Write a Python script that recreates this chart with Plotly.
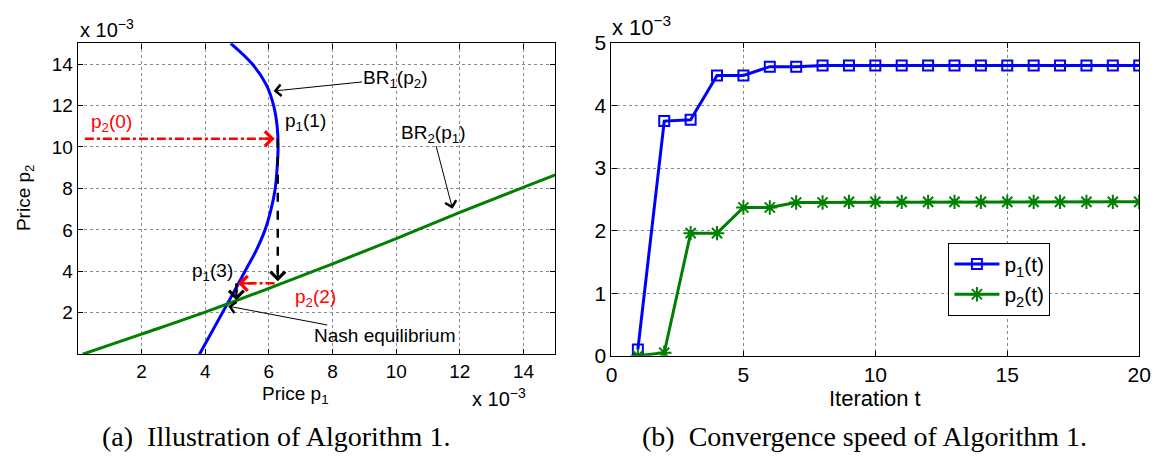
import plotly.graph_objects as go

# ---------------- data (prices in units of 1e-3) ----------------
# Left panel: best-response curves
br1_p2 = [0.0, 1.0, 2.0, 3.0, 4.0, 5.0, 6.0, 7.0, 8.0, 9.0, 10.0, 11.0, 12.0, 13.0, 14.0, 15.0]
br1_p1 = [3.82, 4.18, 4.54, 4.9, 5.25, 5.6, 5.88, 6.07, 6.2, 6.26, 6.29, 6.26, 6.15, 5.92, 5.48, 4.8]

br2_p1 = [0.15, 2.0, 4.0, 6.0, 8.0, 10.0, 12.0, 15.0]
br2_p2 = [0.0, 0.97, 2.03, 3.18, 4.36, 5.58, 6.84, 8.65]

# Iteration path of Algorithm 1 (left panel)
p2_0 = 10.4
p1_1 = 6.28
p2_2 = 3.42
p1_3 = 4.98
nash_p1, nash_p2 = 4.72, 2.32

# Right panel: convergence
iters = list(range(1, 21))
p1_t = [0.1, 3.75, 3.77, 4.48, 4.48, 4.62, 4.62, 4.64, 4.64, 4.64, 4.64, 4.64,
        4.64, 4.64, 4.64, 4.64, 4.64, 4.64, 4.64, 4.64]
p2_t = [0.0, 0.05, 1.96, 1.96, 2.37, 2.37, 2.45, 2.45, 2.46, 2.46, 2.46, 2.46,
        2.46, 2.46, 2.46, 2.46, 2.46, 2.46, 2.46, 2.46]

left_ticks = [2, 4, 6, 8, 10, 12, 14]
right_xticks = [0, 5, 10, 15, 20]
right_yticks = [0, 1, 2, 3, 4, 5]

BLUE = "#0000FF"
GREEN = "#008000"
RED = "#FF0000"
SANS = "Liberation Sans, Arial, sans-serif"
SERIF = "Liberation Serif, Times New Roman, serif"
FL = 19   # left panel font size
FR = 21   # right panel font size

fig = go.Figure()

# ---------------- left panel ----------------
fig.add_trace(go.Scatter(x=br1_p1, y=br1_p2, mode="lines", line=dict(color=BLUE, width=3, shape="spline"),
                         xaxis="x", yaxis="y", showlegend=False))
fig.add_trace(go.Scatter(x=br2_p1, y=br2_p2, mode="lines", line=dict(color=GREEN, width=3, shape="spline"),
                         xaxis="x", yaxis="y", showlegend=False))

# dashed iteration lines
fig.add_trace(go.Scatter(x=[0.22, p1_1 - 0.1], y=[p2_0, p2_0], mode="lines",
                         line=dict(color=RED, width=2.5, dash="dashdot"), xaxis="x", yaxis="y", showlegend=False))
fig.add_trace(go.Scatter(x=[p1_1, p1_1], y=[p2_0, p2_2 + 0.1], mode="lines",
                         line=dict(color="black", width=2.5, dash="dash"), xaxis="x", yaxis="y", showlegend=False))
fig.add_trace(go.Scatter(x=[p1_1 - 0.1, p1_3 + 0.05], y=[p2_2, p2_2], mode="lines",
                         line=dict(color=RED, width=2.5, dash="dashdot"), xaxis="x", yaxis="y", showlegend=False))
fig.add_trace(go.Scatter(x=[p1_3, p1_3], y=[p2_2, 2.6], mode="lines",
                         line=dict(color="black", width=2.5, dash="dash"), xaxis="x", yaxis="y", showlegend=False))

# ---------------- right panel ----------------
fig.add_trace(go.Scatter(x=iters, y=p1_t, mode="lines+markers", name="p<sub>1</sub>(t)",
                         line=dict(color=BLUE, width=3),
                         marker=dict(symbol="square-open", size=10, color=BLUE, line=dict(width=2, color=BLUE)),
                         xaxis="x2", yaxis="y2"))
fig.add_trace(go.Scatter(x=iters, y=p2_t, mode="lines+markers", name="p<sub>2</sub>(t)",
                         line=dict(color=GREEN, width=3),
                         marker=dict(symbol="asterisk-open", size=12, color=GREEN, line=dict(width=2, color=GREEN)),
                         xaxis="x2", yaxis="y2"))

def ax_common(fs):
    return dict(showline=True, linecolor="black", linewidth=1.3, mirror="allticks",
                ticks="inside", ticklen=5, tickcolor="black", showgrid=True,
                gridcolor="#8a8a8a", griddash="dot", gridwidth=1, zeroline=False,
                tickfont=dict(family=SANS, size=fs, color="black"))

fig.update_layout(
    width=1168, height=466,
    margin=dict(l=0, r=0, t=0, b=0),
    paper_bgcolor="white", plot_bgcolor="white",
    font=dict(family=SANS, size=FL, color="black"),
    xaxis=dict(domain=[0.0625, 0.4777], range=[0, 15], tickvals=left_ticks, anchor="y", **ax_common(FL)),
    yaxis=dict(domain=[0.2275, 0.9292], range=[0, 15], tickvals=left_ticks, anchor="x", **ax_common(FL)),
    xaxis2=dict(domain=[0.5265, 0.9854], range=[0, 20], tickvals=right_xticks, anchor="y2", **ax_common(FR)),
    yaxis2=dict(domain=[0.2238, 0.9303], range=[0, 5], tickvals=right_yticks, anchor="x2", **ax_common(FR)),
    legend=dict(x=0.8195, y=0.479, xanchor="left", yanchor="top", bgcolor="white",
                bordercolor="black", borderwidth=1, font=dict(size=FR, family=SANS),
                itemwidth=45, tracegroupgap=8),
    showlegend=True,
)

anns = []
# arrow heads on iteration lines (open chevron style)
def head(x0, y0, x1, y1, color):
    anns.append(dict(x=x1, y=y1, ax=x0, ay=y0, xref="x", yref="y", axref="x", ayref="y",
                     text="", showarrow=True, arrowhead=4, arrowsize=1.3, arrowwidth=2.2, arrowcolor=color))

head(p1_1 - 0.6, p2_0, p1_1 - 0.1, p2_0, RED)
head(p1_1, p2_2 + 0.9, p1_1, p2_2 + 0.1, "black")
head(p1_3 + 0.6, p2_2, p1_3 + 0.05, p2_2, RED)
head(p1_3, 3.2, p1_3, 2.6, "black")

# labelled pointer arrows
def pointer(text, tx, ty, hx, hy):
    anns.append(dict(x=hx, y=hy, ax=tx, ay=ty, xref="x", yref="y", axref="x", ayref="y",
                     text=text, showarrow=True, arrowhead=4, arrowsize=2.2, arrowwidth=1, arrowcolor="black",
                     font=dict(size=FL, color="black", family=SANS), borderpad=0))

pointer("BR<sub>1</sub>(p<sub>2</sub>)", 9.95, 13.3, 6.15, 12.7)
pointer("BR<sub>2</sub>(p<sub>1</sub>)", 11.15, 10.65, 11.77, 7.02)
pointer("Nash equilibrium", 9.65, 0.88, nash_p1, nash_p2)

# plain text labels
def label(text, x, y, color, xanchor="center"):
    anns.append(dict(x=x, y=y, xref="x", yref="y", text=text, showarrow=False, xanchor=xanchor,
                     font=dict(size=FL, color=color, family=SANS)))

label("p<sub>2</sub>(0)", 1.05, 11.15, RED)
label("p<sub>1</sub>(1)", 6.45, 11.2, "black", "left")
label("p<sub>2</sub>(2)", 7.45, 2.7, RED)
label("p<sub>1</sub>(3)", 4.95, 3.95, "black", "right")

# axis titles / exponents / captions (paper coords via pixels)
def ptext(text, px, py, size=FL, family=SANS, angle=0, xanchor="center"):
    anns.append(dict(x=px / 1168, y=1 - py / 466, xref="paper", yref="paper", text=text, showarrow=False,
                     xanchor=xanchor, yanchor="middle", textangle=angle,
                     font=dict(size=size, color="black", family=family)))

ptext("x 10<sup>−3</sup>", 73, 17, size=20, xanchor="left")
ptext("x 10<sup>−3</sup>", 471, 405, size=20, xanchor="left")
ptext("x 10<sup>−3</sup>", 613, 15, size=22, xanchor="left")
ptext("Price p<sub>1</sub>", 294, 403)
ptext("Price p<sub>2</sub>", 20, 195, angle=-90)
ptext("Iteration t", 883, 407, size=22)
ptext("(a)  Illustration of Algorithm 1.", 274, 447, size=28, family=SERIF)
ptext("(b)  Convergence speed of Algorithm 1.", 872, 447, size=28, family=SERIF)

fig.update_layout(annotations=anns)
fig.write_html("out.html")
